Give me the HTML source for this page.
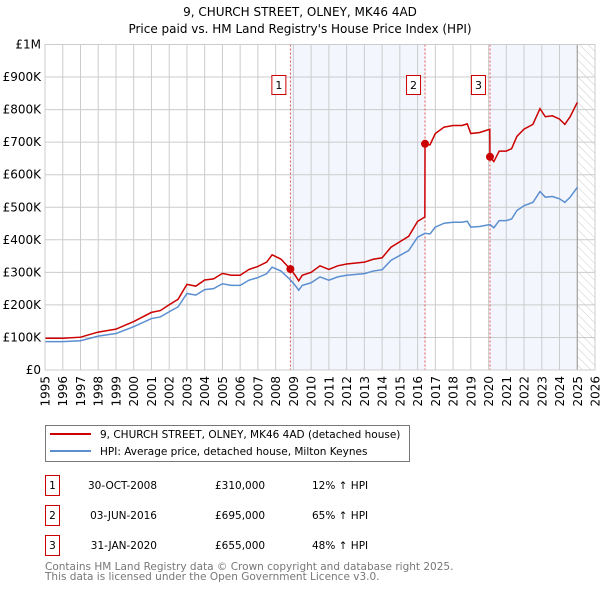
<!DOCTYPE html>
<html><head><meta charset="utf-8"><style>
body{margin:0;background:#fff;width:600px;height:590px;overflow:hidden;font-family:"DejaVu Sans","Liberation Sans",sans-serif}
svg text{font-family:"DejaVu Sans","Liberation Sans",sans-serif}
</style></head><body>
<svg id="chart" width="600" height="590" xmlns="http://www.w3.org/2000/svg">
<text x="300" y="16" text-anchor="middle" font-size="12">9, CHURCH STREET, OLNEY, MK46 4AD</text>
<text x="300" y="33" text-anchor="middle" font-size="12">Price paid vs. HM Land Registry's House Price Index (HPI)</text>
<g id="plot"></g>
<g>
<rect x="45.5" y="425.5" width="364" height="36" fill="#fff" stroke="#777"/>
<line x1="50" y1="434" x2="91" y2="434" stroke="#cc0000" stroke-width="2"/>
<text x="100" y="438" font-size="10.5">9, CHURCH STREET, OLNEY, MK46 4AD (detached house)</text>
<line x1="50" y1="451" x2="91" y2="451" stroke="#5b8fd0" stroke-width="2"/>
<text x="100" y="455" font-size="10.5">HPI: Average price, detached house, Milton Keynes</text>
</g>
<g id="table"></g>
<text x="45" y="570" font-size="10.5" fill="#777">Contains HM Land Registry data © Crown copyright and database right 2025.</text>
<text x="45" y="580" font-size="10.5" fill="#777">This data is licensed under the Open Government Licence v3.0.</text>
</svg>
<script>
const hpiYears=[1995,1996,1997,1998,1999,2000,2001,2001.5,2002,2002.5,2003,2003.5,2004,2004.5,2005,2005.5,2006,2006.5,2007,2007.5,2007.8,2008.3,2008.83,2009.1,2009.3,2009.5,2010,2010.5,2011,2011.5,2012,2013,2013.5,2014,2014.5,2015,2015.5,2016,2016.42,2016.7,2017,2017.5,2018,2018.5,2018.8,2019,2019.5,2020.08,2020.3,2020.6,2021,2021.3,2021.6,2022,2022.5,2022.9,2023.2,2023.6,2024,2024.3,2024.6,2025];
const hpiValues=[87,87,90,104,112,133,158,163,179,194,235,230,247,250,265,260,260,276,284,296,316,304,277,260,245,260,268,286,276,286,291,296,304,308,337,352,367,408,420,418,439,451,454,454,457,439,441,447,437,459,459,464,490,505,515,548,531,533,526,515,531,561];
const saleYears=[2008.83,2016.42,2020.08];
const salePrices=[310,695,655];
const saleLabels=["1","2","3"];
const saleDates=["30-OCT-2008","03-JUN-2016","31-JAN-2020"];
const salePriceText=["£310,000","£695,000","£655,000"];
const saleHpiText=["12% ↑ HPI","65% ↑ HPI","48% ↑ HPI"];
const yTicks=[0,100,200,300,400,500,600,700,800,900,1000];
const yTickLabels=["£0","£100K","£200K","£300K","£400K","£500K","£600K","£700K","£800K","£900K","£1M"];
const xTicks=[1995,1996,1997,1998,1999,2000,2001,2002,2003,2004,2005,2006,2007,2008,2009,2010,2011,2012,2013,2014,2015,2016,2017,2018,2019,2020,2021,2022,2023,2024,2025,2026];

const NS="http://www.w3.org/2000/svg";
const L=45,R=595,T=44.5,B=370;
const x=v=>L+(v-1995)*(R-L)/31;
const y=v=>B-v*(B-T)/1000;
const plot=document.getElementById('plot');
function mk(tag,attrs,parent){const e=document.createElementNS(NS,tag);for(const k in attrs)e.setAttribute(k,attrs[k]);(parent||plot).appendChild(e);return e;}
function hpiAt(t){for(let i=0;i<hpiYears.length-1;i++){if(t>=hpiYears[i]&&t<=hpiYears[i+1]){const f=(t-hpiYears[i])/(hpiYears[i+1]-hpiYears[i]);return hpiValues[i]+f*(hpiValues[i+1]-hpiValues[i]);}}return hpiValues[hpiValues.length-1];}
const lastYear=hpiYears[hpiYears.length-1];
let sh=mk('rect',{x:x(saleYears[0]),y:T,width:x(saleYears[1])-x(saleYears[0]),height:B-T,fill:'#f3f6fd'});


let sh2=mk('rect',{x:x(saleYears[2]),y:T,width:x(lastYear)-x(saleYears[2]),height:B-T,fill:'#f3f6fd'});


const defs=mk('defs',{});
const pat=mk('pattern',{id:'hatch',width:6,height:6,patternUnits:'userSpaceOnUse',patternTransform:'rotate(-45)'},defs);
mk('line',{x1:0,y1:0,x2:0,y2:6,stroke:'#ccc','stroke-width':1},pat);
let hz=mk('rect',{x:x(lastYear),y:T,width:R-x(lastYear),height:B-T,fill:'url(#hatch)'});


yTicks.forEach((v,i)=>{
 const g=mk('line',{x1:L,x2:R,y1:y(v),y2:y(v),stroke:'#cccccc','stroke-width':1});
 
 
 const t=mk('text',{x:L-4,y:y(v)+4,'text-anchor':'end','font-size':12});
 t.textContent=yTickLabels[i];
 
 
});
xTicks.forEach(v=>{
 const g=mk('line',{x1:x(v),x2:x(v),y1:T,y2:B,stroke:'#cccccc','stroke-width':1});
 
 
 const t=mk('text',{x:0,y:0,'text-anchor':'end','font-size':12,transform:`translate(${x(v)+4.5},${B+6}) rotate(-90)`});
 t.textContent=v;
 
 
});
mk('line',{x1:x(lastYear),x2:x(lastYear),y1:T,y2:B,stroke:'#999','stroke-width':1});
saleYears.forEach((s,i)=>{
 const l=mk('line',{x1:x(s),x2:x(s),y1:T,y2:B,stroke:'#e05050','stroke-width':1,'stroke-dasharray':'2,2'});
 
 
 const bx=mk('rect',{x:x(s)-18.5,y:75.5,width:14,height:19,fill:'#fff',stroke:'#cc0000'});
 
 
 const t=mk('text',{x:x(s)-11.5,y:89,'text-anchor':'middle','font-size':11});
 t.textContent=saleLabels[i];
 
 
});
const hp=mk('polyline',{points:hpiYears.map((t,i)=>x(t)+','+y(hpiValues[i])).join(' '),fill:'none',stroke:'#5b8fd0','stroke-width':1.5});


const pts=[];
const seg1Factor=1.12;
hpiYears.forEach((t,i)=>{
 let k=0;for(let j=0;j<saleYears.length;j++)if(t>=saleYears[j])k=j;
 let f=t<saleYears[0]?seg1Factor:(k===0?salePrices[0]/hpiAt(saleYears[0]):salePrices[k]/hpiAt(saleYears[k]));
 pts.push([t,hpiValues[i]*f]);
});
saleYears.forEach((s,j)=>{
 const before=j===0?seg1Factor:(j===1?salePrices[0]/hpiAt(saleYears[0]):salePrices[1]/hpiAt(saleYears[1]));
 pts.push([s-0.01,hpiAt(s)*before]);pts.push([s,salePrices[j]]);
});
pts.sort((a,b)=>a[0]-b[0]);
const pl=mk('polyline',{points:pts.map(p=>x(p[0])+','+y(p[1])).join(' '),fill:'none',stroke:'#cc0000','stroke-width':1.5});


saleYears.forEach((s,i)=>{
 const c=mk('circle',{cx:x(s),cy:y(salePrices[i]),r:4,fill:'#cc0000'});
 
 
});
mk('rect',{x:L,y:T,width:R-L,height:B-T,fill:'none',stroke:'#cccccc'});
const tb=document.getElementById('table');
saleYears.forEach((s,i)=>{
 const yy=475+i*30;
 const b=mk('rect',{x:45.5,y:yy+0.5,width:14,height:20,fill:'#fff',stroke:'#cc0000'},tb);
 
 
 const cols=[[52.5,saleLabels[i],'middle'],[157,saleDates[i],'end'],[215,salePriceText[i],'start'],[312,saleHpiText[i],'start']];
 cols.forEach(c=>{
  const t=mk('text',{x:c[0],y:yy+14,'text-anchor':c[2],'font-size':10.5},tb);
  t.textContent=c[1];
  
  
 });
});
</script>
</body></html>
